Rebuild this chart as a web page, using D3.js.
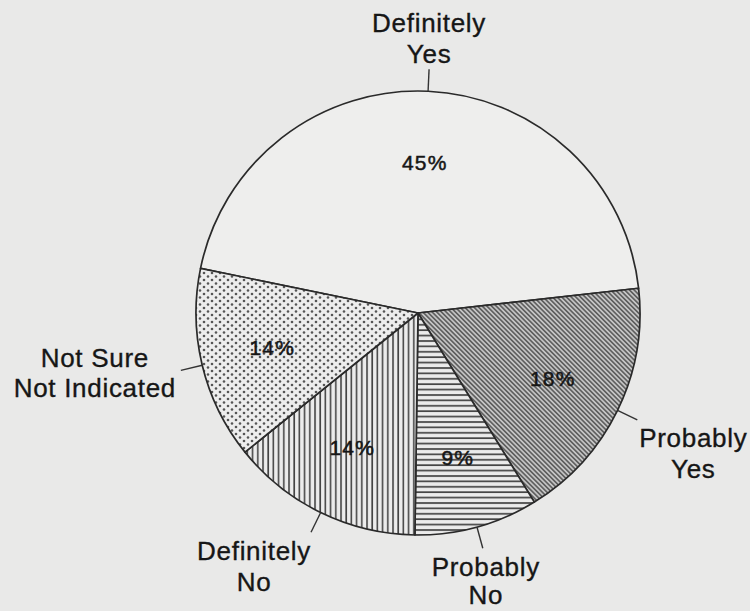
<!DOCTYPE html>
<html>
<head>
<meta charset="utf-8">
<script src="https://cdn.jsdelivr.net/npm/d3@7/dist/d3.min.js"></script>
<style>
  html, body { margin: 0; padding: 0; background: #e9e9e8; }
  svg { display: block; }
  text { font-family: "Liberation Sans", Arial, Helvetica, sans-serif; fill: #161616; stroke: #161616; stroke-width: 0.35px; }
</style>
</head>
<body>
<svg id="chart" width="750" height="611"></svg>
<script>
// Survey responses, in drawing order (clockwise)
const categories = ["Definitely Yes", "Probably Yes", "Probably No", "Definitely No", "Not Sure / Not Indicated"];
const percents   = [45, 18, 9, 14, 14];
const outerLabels = [["Definitely", "Yes"], ["Probably", "Yes"], ["Probably", "No"], ["Definitely", "No"], ["Not Sure", "Not Indicated"]];
const fills      = ["blank", "diag", "horiz", "vert", "dots"];

const W = 750, H = 611;
const cx = 418, cy = 313, R = 222;
const startDeg = -78.4;

// Where each outer label sits relative to its leader line's outer end
const labelOffset = [
  { dx: 0,   dy: [-37, -6] },
  { dx: 56,  dy: [27, 58] },
  { dx: 3,   dy: [28, 56] },
  { dx: -57, dy: [28, 59] },
  { dx: -86, dy: [-3, 27] }
];

const svg = d3.select("#chart");
svg.append("rect").attr("width", W).attr("height", H).attr("fill", "#e9e9e8");

// Hatch / stipple patterns
const defs = svg.append("defs");
const pDiag = defs.append("pattern").attr("id", "diag").attr("patternUnits", "userSpaceOnUse")
  .attr("width", 3.3).attr("height", 3.3).attr("patternTransform", "rotate(-45)");
pDiag.append("rect").attr("width", 3.3).attr("height", 3.3).attr("fill", "#c4c4c4");
pDiag.append("line").attr("x1", 0.8).attr("y1", 0).attr("x2", 0.8).attr("y2", 3.3)
  .attr("stroke", "#4e4e4e").attr("stroke-width", 1.4);

const pH = defs.append("pattern").attr("id", "horiz").attr("patternUnits", "userSpaceOnUse")
  .attr("width", 10).attr("height", 5.4);
pH.append("rect").attr("width", 10).attr("height", 5.4).attr("fill", "#ebebeb");
pH.append("line").attr("x1", 0).attr("y1", 1).attr("x2", 10).attr("y2", 1)
  .attr("stroke", "#444").attr("stroke-width", 1.7);

const pV = defs.append("pattern").attr("id", "vert").attr("patternUnits", "userSpaceOnUse")
  .attr("width", 5.2).attr("height", 10);
pV.append("rect").attr("width", 5.2).attr("height", 10).attr("fill", "#ececec");
pV.append("line").attr("x1", 1).attr("y1", 0).attr("x2", 1).attr("y2", 10)
  .attr("stroke", "#444").attr("stroke-width", 1.6);

const pD = defs.append("pattern").attr("id", "dots").attr("patternUnits", "userSpaceOnUse")
  .attr("width", 8).attr("height", 7);
pD.append("rect").attr("width", 8).attr("height", 7).attr("fill", "#ededed");
pD.append("circle").attr("cx", 2).attr("cy", 2).attr("r", 1.3).attr("fill", "#555");
pD.append("circle").attr("cx", 6).attr("cy", 5.5).attr("r", 1.3).attr("fill", "#555");

const fillFor = k => k === "blank" ? "#eeeeed" : `url(#${k})`;

const data = categories.map((c, i) => ({ name: c, value: percents[i], fill: fills[i], label: outerLabels[i], off: labelOffset[i] }));

const rad = d => d * Math.PI / 180;
const pie = d3.pie().sort(null).value(d => d.value)
  .startAngle(rad(startDeg)).endAngle(rad(startDeg + 360));
const arcs = pie(data);

const arc = d3.arc().innerRadius(0).outerRadius(R);
const inner = d3.arc().innerRadius(150).outerRadius(150);

const g = svg.append("g").attr("transform", `translate(${cx},${cy})`);

g.selectAll("path.slice").data(arcs).join("path")
  .attr("class", "slice")
  .attr("d", arc)
  .attr("fill", d => fillFor(d.data.fill))
  .attr("stroke", "#2a2a2a")
  .attr("stroke-width", 1.7)
  .attr("stroke-linejoin", "round");

// Percent labels inside the slices
g.selectAll("text.pct").data(arcs).join("text")
  .attr("class", "pct")
  .attr("x", d => inner.centroid(d)[0])
  .attr("y", d => inner.centroid(d)[1] + 7)
  .attr("text-anchor", "middle")
  .attr("font-size", 21)
  .attr("letter-spacing", 1.2)
  .style("stroke-width", "0.5px")
  .text(d => d.data.value + "%");

// Leader lines and outer category labels
const mid = d => (d.startAngle + d.endAngle) / 2;
const pt = (a, r) => [r * Math.sin(a), -r * Math.cos(a)];

g.selectAll("line.leader").data(arcs).join("line")
  .attr("class", "leader")
  .attr("x1", d => pt(mid(d), R)[0]).attr("y1", d => pt(mid(d), R)[1])
  .attr("x2", d => pt(mid(d), R + 22)[0]).attr("y2", d => pt(mid(d), R + 22)[1])
  .attr("stroke", "#333").attr("stroke-width", 1.4);

arcs.forEach(d => {
  const [ex, ey] = pt(mid(d), R + 22);
  d.data.label.forEach((line, j) => {
    g.append("text")
      .attr("x", ex + d.data.off.dx)
      .attr("y", ey + d.data.off.dy[j])
      .attr("text-anchor", "middle")
      .attr("font-size", 26)
      .attr("letter-spacing", 0.7)
      .text(line);
  });
});
</script>
</body>
</html>
